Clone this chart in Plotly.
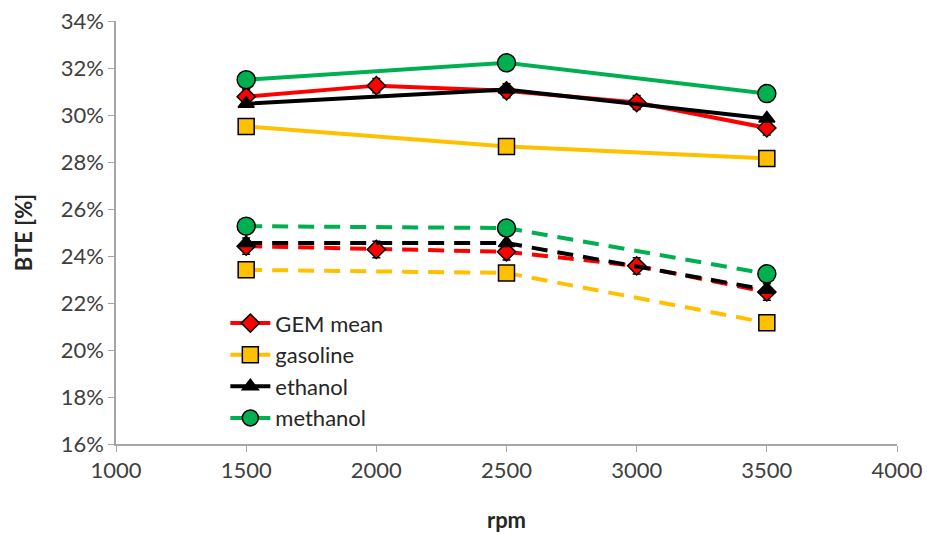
import plotly.graph_objects as go

rpm = [1500, 2500, 3500]
rpm_gem = [1500, 2000, 2500, 3000, 3500]

# solid-line series (BTE %)
gem_solid = [30.78, 31.25, 31.03, 30.53, 29.45]
gasoline_solid = [29.51, 28.66, 28.15]
ethanol_solid = [30.48, 31.08, 29.85]
methanol_solid = [31.50, 32.22, 30.91]

# dashed-line series (BTE %)
gem_dash = [24.42, 24.28, 24.18, 23.58, 22.47]
gasoline_dash = [23.41, 23.28, 21.16]
ethanol_dash = [24.55, 24.55, 22.56]
methanol_dash = [25.27, 25.19, 23.24]

gem_err = [0.3, 0.3, 0.3, 0.3, 0.3]
gem_err_dash = [0.35, 0.35, 0.35, 0.35, 0.35]

RED = "#FF0000"
GOLD = "#FFC000"
BLACK = "#000000"
GREEN = "#00B050"

series = [
    ("GEM mean", rpm_gem, gem_solid, gem_dash, RED, "diamond", 14, True),
    ("gasoline", rpm, gasoline_solid, gasoline_dash, GOLD, "square", 16, False),
    ("ethanol", rpm, ethanol_solid, ethanol_dash, BLACK, "triangle-up", 14, False),
    ("methanol", rpm, methanol_solid, methanol_dash, GREEN, "circle", 18, False),
]

fig = go.Figure()

for name, xs, ys_s, ys_d, col, sym, sz, err in series:
    fig.add_trace(go.Scatter(
        x=xs, y=ys_d, mode="lines+markers", showlegend=False,
        line=dict(color=col, width=4, dash="16px,10px"),
        marker=dict(symbol=sym, size=sz, color=col, line=dict(color="black", width=1.5)),
        error_y=dict(type="data", array=gem_err_dash, color="black", thickness=1.5, width=4) if err else None,
    ))

for name, xs, ys_s, ys_d, col, sym, sz, err in series:
    fig.add_trace(go.Scatter(
        x=xs, y=ys_s, mode="lines+markers", name=name,
        line=dict(color=col, width=4),
        marker=dict(symbol=sym, size=sz, color=col, line=dict(color="black", width=1.5)),
        error_y=dict(type="data", array=gem_err, color="black", thickness=1.5, width=4) if err else None,
    ))

axis_font = dict(family="Lato, 'Open Sans', sans-serif", size=22, color="#404040")
title_font = dict(family="Lato, sans-serif", size=22, color="#262626")

fig.update_layout(
    width=927, height=535,
    margin=dict(l=116, r=30, t=21, b=91),
    paper_bgcolor="white", plot_bgcolor="white",
    font=axis_font,
    xaxis=dict(
        range=[1000, 4000], dtick=500, tick0=1000,
        showgrid=False, zeroline=False, automargin=False,
        showline=True, linecolor="#A6A6A6", linewidth=1.5,
        ticks="outside", ticklen=6, tickcolor="#A6A6A6",
        tickfont=axis_font,
        title=dict(text="<b>rpm</b>", font=title_font, standoff=30),
    ),
    yaxis=dict(
        range=[16, 34], dtick=2, tick0=16, ticksuffix="%",
        showgrid=False, zeroline=False, automargin=False,
        showline=True, linecolor="#A6A6A6", linewidth=1.5,
        ticks="outside", ticklen=6, tickcolor="#A6A6A6",
        tickfont=axis_font,
        title=dict(text="<b>BTE [%]</b>", font=title_font, standoff=22),
    ),
    legend=dict(
        x=0.14, y=0.335, xanchor="left", yanchor="top",
        bgcolor="rgba(0,0,0,0)", font=dict(family="Lato, sans-serif", size=22, color="#262626"),
        tracegroupgap=0, itemwidth=40,
    ),
)

fig.write_html("out.html")
